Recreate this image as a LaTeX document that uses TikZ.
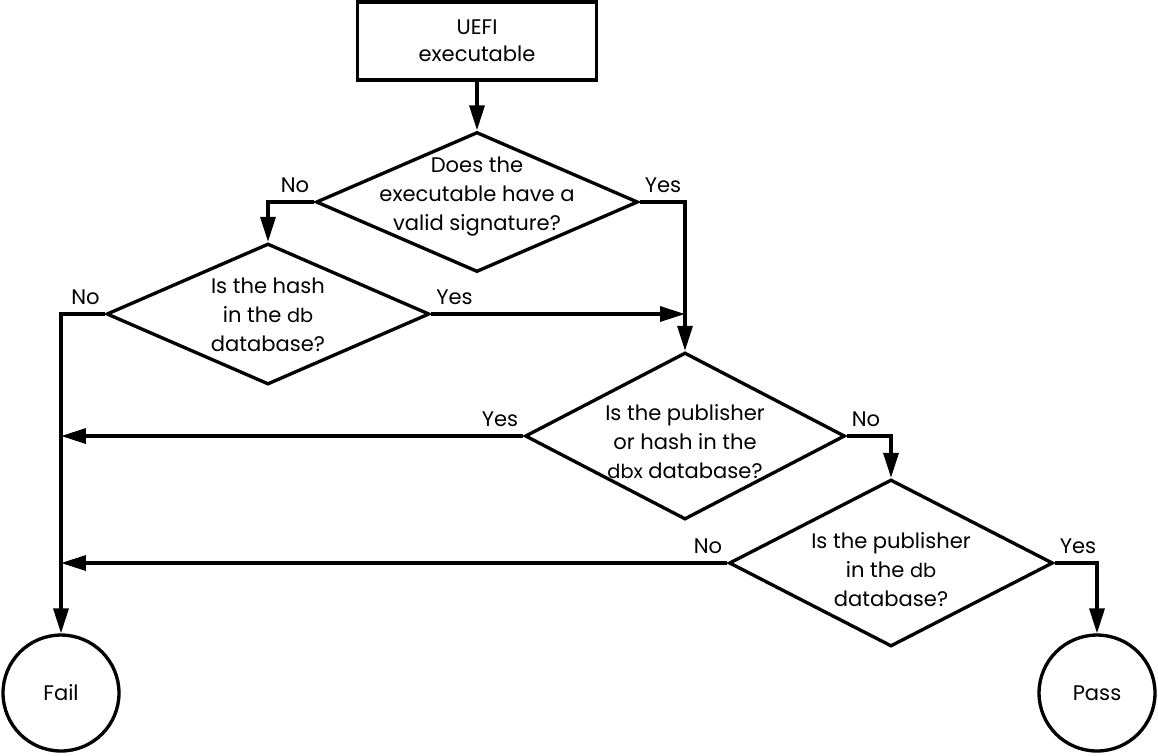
\documentclass[tikz,border=0pt]{standalone}
\usepackage{fontspec}
\setmainfont{Poppins}
\usetikzlibrary{shapes.geometric,arrows.meta}

\newcommand{\dbname}[1]{{\fontsize{11}{16.5}\selectfont #1}}

\begin{document}
\begin{tikzpicture}[x=0.02cm,y=-0.02cm,line width=1.9pt,
  box/.style={draw,rectangle,minimum width=4.78cm,minimum height=1.56cm,inner sep=0,
    align=center,font=\fontsize{12}{15.5}\selectfont},
  ask/.style={draw,diamond,inner sep=0},
  txt/.style={align=center,font=\fontsize{12}{16.5}\selectfont},
  ans/.style={font=\fontsize{12}{14}\selectfont,inner sep=2pt,yshift=2.5pt},
  term/.style={draw,circle,minimum size=2.32cm,inner sep=0,font=\fontsize{12}{14}\selectfont},
  arr/.style={-{Triangle[length=0.5cm,width=0.3cm]}}]
\useasboundingbox (0,0) rectangle (1158,755);

\node[box] (exe) at (477,41) {UEFI\\executable};

\node[ask,minimum width=6.44cm,minimum height=2.8cm] (q1) at (477,202) {};
\node[txt] (q1t) at (477,197) {Does the\\executable have a\\valid signature?};

\node[ask,minimum width=6.46cm,minimum height=2.82cm] (q2) at (268,314) {};
\node[txt] (q2t) at (268,315) {Is the hash\\in the \dbname{db}\\database?};

\node[ask,minimum width=6.4cm,minimum height=3.34cm] (q3) at (685,436) {};
\node[txt] (q3t) at (685,442) {Is the publisher\\or hash in the\\\dbname{dbx} database?};

\node[ask,minimum width=6.48cm,minimum height=3.34cm] (q4) at (891,563) {};
\node[txt] (q4t) at (891,570) {Is the publisher\\in the \dbname{db}\\database?};

\node[term] (fail) at (61,693) {Fail};
\node[term] (pass) at (1097,693) {Pass};

%-------------------------------------
\coordinate (c3) at (q3.north |- q2.east);

\draw[arr] (exe.south) -- (q1.north);
\draw[arr] (q1.west) -- (q2.north |- q1.west) -- (q2.north);
\draw[arr] (q1.east) -- (q3.north |- q1.east) -- (q3.north);
\draw[arr] (q2.east) -- (c3);
\draw[arr] (q2.west) -- (fail.north |- q2.west) -- (fail.north);
\draw[arr] (q3.west) -- (fail.north |- q3.west);
\draw[arr] (q3.east) -- (q4.north |- q3.east) -- (q4.north);
\draw[arr] (q4.west) -- (fail.north |- q4.west);
\draw[arr] (q4.east) -- (pass.north |- q4.east) -- (pass.north);

%-------------------------------------
\node[ans,above left] (q1no) at (q1.west) {No};
\node[ans,above right] (q1yes) at (q1.east) {Yes};
\node[ans,above left] (q2no) at (q2.west) {No};
\node[ans,above right] (q2yes) at (q2.east) {Yes};
\node[ans,above left] (q3yes) at (q3.west) {Yes};
\node[ans,above right] (q3no) at (q3.east) {No};
\node[ans,above left] (q4no) at (q4.west) {No};
\node[ans,above right] (q4yes) at (q4.east) {Yes};

\end{tikzpicture}
\end{document}
